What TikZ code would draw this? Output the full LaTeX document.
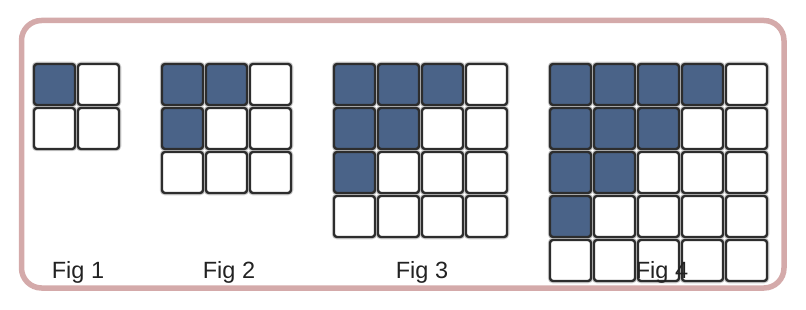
\documentclass[tikz,border=0pt]{standalone}
\usepackage{fontspec}
\setmainfont{Liberation Sans}
\definecolor{frameC}{RGB}{212,170,170}
\definecolor{cellfill}{RGB}{74,99,136}
\definecolor{cellline}{RGB}{45,45,45}
\definecolor{halo}{RGB}{205,205,205}
\definecolor{txt}{RGB}{34,34,34}
\begin{document}
\begin{tikzpicture}[x=1pt,y=-1pt,
  frame/.style={draw=frameC,line width=5.5pt,rounded corners=20pt},
  cellhalo/.style={draw=halo,line width=4.5pt,rounded corners=3pt},
  cellbox/.style={draw=cellline,line width=2.4pt,rounded corners=3pt,fill=white},
  cellon/.style={cellbox,fill=cellfill},
  lbl/.style={font=\fontsize{23.5}{27}\selectfont,text=txt,inner sep=0pt,anchor=base}]
\useasboundingbox (0,0) rectangle (806,310);
\draw[frame] (21.5,20.5) rectangle (784,288);
% grids: origin x, size n
\foreach \ox/\n in {34/2,162/3,334/4,550/5}{
  \pgfmathtruncatemacro{\m}{\n-1}
  \foreach \r in {0,...,\m}{
    \foreach \c in {0,...,\m}{
      \pgfmathsetmacro{\xa}{\ox+44*\c}
      \pgfmathsetmacro{\ya}{64+44*\r}
      \draw[cellhalo] (\xa,\ya) rectangle ++(41,41);
    }
  }
  \foreach \r in {0,...,\m}{
    \foreach \c in {0,...,\m}{
      \pgfmathsetmacro{\xa}{\ox+44*\c}
      \pgfmathsetmacro{\ya}{64+44*\r}
      \pgfmathtruncatemacro{\s}{\r+\c}
      \ifnum\s<\m
        \draw[cellon] (\xa,\ya) rectangle ++(41,41);
      \else
        \draw[cellbox] (\xa,\ya) rectangle ++(41,41);
      \fi
    }
  }
}
\node[lbl] (f1) at (78,278.5) {Fig 1};
\node[lbl] (f2) at (229,278.5) {Fig 2};
\node[lbl] (f3) at (422,278.5) {Fig 3};
\node[lbl] (f4) at (662,278.5) {Fig 4};
\end{tikzpicture}
\end{document}
